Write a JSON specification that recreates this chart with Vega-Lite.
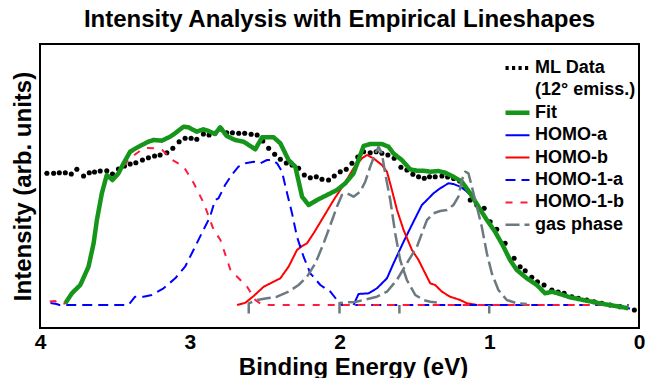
{
"$schema": "https://vega.github.io/schema/vega-lite/v6.json",
"width": 599, "height": 284,
"autosize": {"type": "none"},
"padding": {"left": 40, "top": 44, "right": 6, "bottom": 50},
"background": "white",
"config": {
  "font": "Liberation Sans",
  "view": {"stroke": "black", "strokeWidth": 2},
  "axis": {"labelFont": "Liberation Sans", "titleFont": "Liberation Sans", "labelFontWeight": "bold", "titleFontWeight": "bold", "labelColor": "black", "titleColor": "black", "ticks": false, "grid": false, "domain": false}
},
"title": {"text": "Intensity Analysis with Empirical Lineshapes", "fontSize": 24, "fontWeight": "bold", "font": "Liberation Sans", "anchor": "middle", "offset": 12, "color": "black"},
"datasets": {
"tickpos": [
{"t":0,"k":"major"},{"t":1,"k":"major"},{"t":2,"k":"major"},{"t":3,"k":"major"},{"t":4,"k":"major"},
{"t":0.1,"k":"minor"},{"t":0.2,"k":"minor"},{"t":0.3,"k":"minor"},{"t":0.4,"k":"minor"},{"t":0.5,"k":"minor"},{"t":0.6,"k":"minor"},{"t":0.7,"k":"minor"},{"t":0.8,"k":"minor"},{"t":0.9,"k":"minor"},
{"t":1.1,"k":"minor"},{"t":1.2,"k":"minor"},{"t":1.3,"k":"minor"},{"t":1.4,"k":"minor"},{"t":1.5,"k":"minor"},{"t":1.6,"k":"minor"},{"t":1.7,"k":"minor"},{"t":1.8,"k":"minor"},{"t":1.9,"k":"minor"},
{"t":2.1,"k":"minor"},{"t":2.2,"k":"minor"},{"t":2.3,"k":"minor"},{"t":2.4,"k":"minor"},{"t":2.5,"k":"minor"},{"t":2.6,"k":"minor"},{"t":2.7,"k":"minor"},{"t":2.8,"k":"minor"},{"t":2.9,"k":"minor"},
{"t":3.1,"k":"minor"},{"t":3.2,"k":"minor"},{"t":3.3,"k":"minor"},{"t":3.4,"k":"minor"},{"t":3.5,"k":"minor"},{"t":3.6,"k":"minor"},{"t":3.7,"k":"minor"},{"t":3.8,"k":"minor"},{"t":3.9,"k":"minor"}
],
"ml": [
{"e":3.954,"i":154.7},{"e":3.909,"i":154.7},{"e":3.871,"i":155.3},{"e":3.831,"i":155.3},{"e":3.791,"i":154},{"e":3.754,"i":158.7},{"e":3.709,"i":152},{"e":3.671,"i":155.3},{"e":3.636,"i":156},{"e":3.598,"i":157},{"e":3.554,"i":157.3},{"e":3.516,"i":154},{"e":3.476,"i":159},{"e":3.436,"i":162},{"e":3.398,"i":164},{"e":3.36,"i":165.3},{"e":3.316,"i":168},{"e":3.276,"i":170.3},{"e":3.235,"i":172},{"e":3.198,"i":173},{"e":3.153,"i":175.3},{"e":3.113,"i":179.7},{"e":3.071,"i":186.3},{"e":3.031,"i":189.7},{"e":2.991,"i":189.7},{"e":2.953,"i":188.7},{"e":2.909,"i":194},{"e":2.871,"i":193},{"e":2.831,"i":194.7},{"e":2.791,"i":199},{"e":2.753,"i":195.3},{"e":2.715,"i":195.3},{"e":2.673,"i":194.7},{"e":2.633,"i":194.7},{"e":2.59,"i":193.7},{"e":2.55,"i":193},{"e":2.512,"i":187},{"e":2.473,"i":179.7},{"e":2.433,"i":173.7},{"e":2.395,"i":168.7},{"e":2.355,"i":165},{"e":2.317,"i":163},{"e":2.273,"i":159.7},{"e":2.235,"i":153},{"e":2.195,"i":150.3},{"e":2.155,"i":151.3},{"e":2.117,"i":148.7},{"e":2.073,"i":148},{"e":2.035,"i":152},{"e":1.995,"i":156.3},{"e":1.955,"i":158.7},{"e":1.917,"i":164.7},{"e":1.878,"i":171},{"e":1.839,"i":176.3},{"e":1.795,"i":175.3},{"e":1.755,"i":176.3},{"e":1.717,"i":174.7},{"e":1.677,"i":173},{"e":1.635,"i":169.7},{"e":1.59,"i":160.7},{"e":1.55,"i":158},{"e":1.51,"i":153.7},{"e":1.472,"i":151.3},{"e":1.434,"i":149.7},{"e":1.399,"i":151.3},{"e":1.361,"i":151.3},{"e":1.316,"i":152},{"e":1.278,"i":151},{"e":1.238,"i":149.5},{"e":1.198,"i":147},{"e":1.16,"i":140},{"e":1.127,"i":128},{"e":1.083,"i":123},{"e":1.034,"i":119.7},{"e":0.994,"i":106.3},{"e":0.95,"i":98.7},{"e":0.894,"i":84.7},{"e":0.834,"i":69.7},{"e":0.794,"i":61.3},{"e":0.76,"i":57.3},{"e":0.716,"i":50.7},{"e":0.678,"i":46.3},{"e":0.634,"i":43},{"e":0.582,"i":38},{"e":0.54,"i":36},{"e":0.5,"i":34.7},{"e":0.449,"i":31.3},{"e":0.405,"i":29.7},{"e":0.349,"i":28},{"e":0.3,"i":26.3},{"e":0.249,"i":24.7},{"e":0.193,"i":23},{"e":0.127,"i":21.3},{"e":0.031,"i":18}
],
"curves": [
{"s":"Fit","p":"a","e":3.831,"i":24.7},{"s":"Fit","p":"a","e":3.787,"i":34.7},{"s":"Fit","p":"a","e":3.731,"i":43},{"s":"Fit","p":"a","e":3.676,"i":61.3},{"s":"Fit","p":"a","e":3.642,"i":84.7},{"s":"Fit","p":"a","e":3.62,"i":108},{"s":"Fit","p":"a","e":3.587,"i":134.7},{"s":"Fit","p":"a","e":3.554,"i":153},{"s":"Fit","p":"a","e":3.516,"i":148},{"s":"Fit","p":"a","e":3.476,"i":154.7},{"s":"Fit","p":"a","e":3.442,"i":164.7},{"s":"Fit","p":"a","e":3.398,"i":176.3},{"s":"Fit","p":"a","e":3.342,"i":181.3},{"s":"Fit","p":"a","e":3.276,"i":186.3},{"s":"Fit","p":"a","e":3.242,"i":188},{"s":"Fit","p":"a","e":3.187,"i":187.3},{"s":"Fit","p":"a","e":3.131,"i":191.3},{"s":"Fit","p":"a","e":3.098,"i":194.7},{"s":"Fit","p":"a","e":3.042,"i":201.3},{"s":"Fit","p":"a","e":3.009,"i":200.7},{"s":"Fit","p":"a","e":2.953,"i":196.3},{"s":"Fit","p":"a","e":2.909,"i":198.7},{"s":"Fit","p":"a","e":2.875,"i":197},{"s":"Fit","p":"a","e":2.831,"i":194},{"s":"Fit","p":"a","e":2.797,"i":200.7},{"s":"Fit","p":"a","e":2.753,"i":192},{"s":"Fit","p":"a","e":2.697,"i":188},{"s":"Fit","p":"a","e":2.64,"i":186.3},{"s":"Fit","p":"a","e":2.562,"i":178.7},{"s":"Fit","p":"a","e":2.517,"i":190.7},{"s":"Fit","p":"a","e":2.44,"i":190.7},{"s":"Fit","p":"a","e":2.395,"i":184.7},{"s":"Fit","p":"a","e":2.34,"i":168},{"s":"Fit","p":"a","e":2.295,"i":161.3},{"s":"Fit","p":"a","e":2.25,"i":131.3},{"s":"Fit","p":"a","e":2.206,"i":123},{"s":"Fit","p":"a","e":2.15,"i":128},{"s":"Fit","p":"a","e":2.083,"i":133},{"s":"Fit","p":"a","e":2.017,"i":138},{"s":"Fit","p":"a","e":1.961,"i":144.7},{"s":"Fit","p":"a","e":1.906,"i":154.7},{"s":"Fit","p":"a","e":1.873,"i":168},{"s":"Fit","p":"a","e":1.839,"i":182},{"s":"Fit","p":"a","e":1.795,"i":184},{"s":"Fit","p":"a","e":1.717,"i":184},{"s":"Fit","p":"a","e":1.673,"i":181.3},{"s":"Fit","p":"a","e":1.64,"i":174.7},{"s":"Fit","p":"a","e":1.584,"i":168},{"s":"Fit","p":"a","e":1.528,"i":158.7},{"s":"Fit","p":"a","e":1.483,"i":157.3},{"s":"Fit","p":"a","e":1.439,"i":157.3},{"s":"Fit","p":"a","e":1.394,"i":156.3},{"s":"Fit","p":"a","e":1.339,"i":157},{"s":"Fit","p":"a","e":1.294,"i":155.3},{"s":"Fit","p":"a","e":1.239,"i":151.3},{"s":"Fit","p":"a","e":1.183,"i":146.3},{"s":"Fit","p":"a","e":1.127,"i":134.7},{"s":"Fit","p":"a","e":1.072,"i":121.3},{"s":"Fit","p":"a","e":1.016,"i":108},{"s":"Fit","p":"a","e":0.961,"i":96.3},{"s":"Fit","p":"a","e":0.905,"i":81.3},{"s":"Fit","p":"a","e":0.861,"i":68},{"s":"Fit","p":"a","e":0.816,"i":58},{"s":"Fit","p":"a","e":0.749,"i":49.7},{"s":"Fit","p":"a","e":0.682,"i":43},{"s":"Fit","p":"a","e":0.627,"i":34.7},{"s":"Fit","p":"a","e":0.582,"i":36.3},{"s":"Fit","p":"a","e":0.527,"i":34},{"s":"Fit","p":"a","e":0.46,"i":30.7},{"s":"Fit","p":"a","e":0.349,"i":27.3},{"s":"Fit","p":"a","e":0.238,"i":24},{"s":"Fit","p":"a","e":0.127,"i":21.3},{"s":"Fit","p":"a","e":0.071,"i":19.7},
{"s":"HOMO-a","p":"a","e":1.906,"i":23},{"s":"HOMO-a","p":"a","e":1.873,"i":34},{"s":"HOMO-a","p":"a","e":1.806,"i":34.7},{"s":"HOMO-a","p":"a","e":1.75,"i":39.7},{"s":"HOMO-a","p":"a","e":1.683,"i":49.7},{"s":"HOMO-a","p":"a","e":1.639,"i":64.7},{"s":"HOMO-a","p":"a","e":1.572,"i":86.3},{"s":"HOMO-a","p":"a","e":1.506,"i":106.3},{"s":"HOMO-a","p":"a","e":1.45,"i":123},{"s":"HOMO-a","p":"a","e":1.416,"i":128},{"s":"HOMO-a","p":"a","e":1.372,"i":134.7},{"s":"HOMO-a","p":"a","e":1.328,"i":139.7},{"s":"HOMO-a","p":"a","e":1.272,"i":144.7},{"s":"HOMO-a","p":"a","e":1.239,"i":144},{"s":"HOMO-a","p":"a","e":1.194,"i":141.3},{"s":"HOMO-a","p":"a","e":1.161,"i":138},{"s":"HOMO-a","p":"a","e":1.127,"i":133},{"s":"HOMO-a","p":"a","e":1.072,"i":120.5},{"s":"HOMO-a","p":"a","e":1.016,"i":107.5},{"s":"HOMO-a","p":"a","e":0.961,"i":96},{"s":"HOMO-a","p":"a","e":0.905,"i":81},{"s":"HOMO-a","p":"a","e":0.861,"i":67.5},{"s":"HOMO-a","p":"a","e":0.816,"i":57.5},{"s":"HOMO-a","p":"a","e":0.749,"i":49},{"s":"HOMO-a","p":"a","e":0.682,"i":42.5},{"s":"HOMO-a","p":"a","e":0.627,"i":34},{"s":"HOMO-a","p":"a","e":0.582,"i":35.5},{"s":"HOMO-a","p":"a","e":0.527,"i":33.5},{"s":"HOMO-a","p":"a","e":0.46,"i":30},{"s":"HOMO-a","p":"a","e":0.349,"i":27},{"s":"HOMO-a","p":"a","e":0.238,"i":23.5},{"s":"HOMO-a","p":"a","e":0.127,"i":21},{"s":"HOMO-a","p":"a","e":0.06,"i":19.5},
{"s":"HOMO-b","p":"a","e":2.684,"i":23},{"s":"HOMO-b","p":"a","e":2.628,"i":25.3},{"s":"HOMO-b","p":"a","e":2.573,"i":32},{"s":"HOMO-b","p":"a","e":2.506,"i":41.3},{"s":"HOMO-b","p":"a","e":2.44,"i":46.3},{"s":"HOMO-b","p":"a","e":2.395,"i":49.7},{"s":"HOMO-b","p":"a","e":2.34,"i":61.3},{"s":"HOMO-b","p":"a","e":2.284,"i":78},{"s":"HOMO-b","p":"a","e":2.25,"i":82},{"s":"HOMO-b","p":"a","e":2.217,"i":84.7},{"s":"HOMO-b","p":"a","e":2.173,"i":94.7},{"s":"HOMO-b","p":"a","e":2.106,"i":111.3},{"s":"HOMO-b","p":"a","e":2.039,"i":128},{"s":"HOMO-b","p":"a","e":1.973,"i":143},{"s":"HOMO-b","p":"a","e":1.906,"i":159.7},{"s":"HOMO-b","p":"a","e":1.85,"i":169.7},{"s":"HOMO-b","p":"a","e":1.817,"i":173},{"s":"HOMO-b","p":"a","e":1.773,"i":169.7},{"s":"HOMO-b","p":"a","e":1.717,"i":163},{"s":"HOMO-b","p":"a","e":1.683,"i":156.3},{"s":"HOMO-b","p":"a","e":1.65,"i":138},{"s":"HOMO-b","p":"a","e":1.616,"i":118},{"s":"HOMO-b","p":"a","e":1.572,"i":98},{"s":"HOMO-b","p":"a","e":1.516,"i":78},{"s":"HOMO-b","p":"a","e":1.472,"i":68},{"s":"HOMO-b","p":"a","e":1.428,"i":54.7},{"s":"HOMO-b","p":"a","e":1.394,"i":44.7},{"s":"HOMO-b","p":"a","e":1.361,"i":43},{"s":"HOMO-b","p":"a","e":1.316,"i":36.3},{"s":"HOMO-b","p":"a","e":1.261,"i":31.3},{"s":"HOMO-b","p":"a","e":1.194,"i":28},{"s":"HOMO-b","p":"a","e":1.149,"i":24.7},{"s":"HOMO-b","p":"a","e":1.105,"i":23.7},{"s":"HOMO-b","p":"a","e":1.08,"i":23},
{"s":"HOMO-1-a","p":"a","e":3.93,"i":25},{"s":"HOMO-1-a","p":"a","e":3.89,"i":24},{"s":"HOMO-1-a","p":"a","e":3.87,"i":23},{"s":"HOMO-1-a","p":"a","e":3.409,"i":23},{"s":"HOMO-1-a","p":"a","e":3.365,"i":31.3},{"s":"HOMO-1-a","p":"a","e":3.309,"i":31.3},{"s":"HOMO-1-a","p":"a","e":3.253,"i":33},{"s":"HOMO-1-a","p":"a","e":3.175,"i":39.7},{"s":"HOMO-1-a","p":"a","e":3.097,"i":49.7},{"s":"HOMO-1-a","p":"a","e":3.031,"i":61.3},{"s":"HOMO-1-a","p":"a","e":2.975,"i":78},{"s":"HOMO-1-a","p":"a","e":2.92,"i":94.7},{"s":"HOMO-1-a","p":"a","e":2.864,"i":111.3},{"s":"HOMO-1-a","p":"a","e":2.831,"i":128},{"s":"HOMO-1-a","p":"a","e":2.808,"i":129.7},{"s":"HOMO-1-a","p":"a","e":2.764,"i":143},{"s":"HOMO-1-a","p":"a","e":2.72,"i":153},{"s":"HOMO-1-a","p":"a","e":2.675,"i":161.3},{"s":"HOMO-1-a","p":"a","e":2.628,"i":164.7},{"s":"HOMO-1-a","p":"a","e":2.573,"i":166.3},{"s":"HOMO-1-a","p":"a","e":2.528,"i":164.7},{"s":"HOMO-1-a","p":"a","e":2.484,"i":168},{"s":"HOMO-1-a","p":"a","e":2.45,"i":168},{"s":"HOMO-1-a","p":"a","e":2.417,"i":164.7},{"s":"HOMO-1-a","p":"a","e":2.384,"i":156.3},{"s":"HOMO-1-a","p":"a","e":2.35,"i":134.7},{"s":"HOMO-1-a","p":"a","e":2.317,"i":114.7},{"s":"HOMO-1-a","p":"a","e":2.284,"i":91.3},{"s":"HOMO-1-a","p":"a","e":2.24,"i":71.3},{"s":"HOMO-1-a","p":"a","e":2.195,"i":54.7},{"s":"HOMO-1-a","p":"a","e":2.128,"i":43},{"s":"HOMO-1-a","p":"a","e":2.061,"i":36.3},{"s":"HOMO-1-a","p":"a","e":2.017,"i":28},{"s":"HOMO-1-a","p":"a","e":1.984,"i":23},{"s":"HOMO-1-a","p":"a","e":0.07,"i":23},
{"s":"HOMO-1-b","p":"a","e":3.935,"i":26.5},{"s":"HOMO-1-b","p":"a","e":3.9,"i":27},{"s":"HOMO-1-b","p":"a","e":3.87,"i":23.5},{"s":"HOMO-1-b","p":"a","e":3.831,"i":24.7},{"s":"HOMO-1-b","p":"a","e":3.787,"i":34.7},{"s":"HOMO-1-b","p":"a","e":3.731,"i":43},{"s":"HOMO-1-b","p":"a","e":3.676,"i":61.3},{"s":"HOMO-1-b","p":"a","e":3.642,"i":84.7},{"s":"HOMO-1-b","p":"a","e":3.62,"i":108},{"s":"HOMO-1-b","p":"a","e":3.587,"i":134.7},{"s":"HOMO-1-b","p":"a","e":3.554,"i":152},{"s":"HOMO-1-b","p":"a","e":3.516,"i":147},{"s":"HOMO-1-b","p":"a","e":3.476,"i":153},{"s":"HOMO-1-b","p":"a","e":3.442,"i":162},{"s":"HOMO-1-b","p":"a","e":3.398,"i":170},{"s":"HOMO-1-b","p":"a","e":3.342,"i":176},{"s":"HOMO-1-b","p":"a","e":3.329,"i":178},{"s":"HOMO-1-b","p":"a","e":3.282,"i":180},{"s":"HOMO-1-b","p":"a","e":3.24,"i":179.7},{"s":"HOMO-1-b","p":"a","e":3.184,"i":178},{"s":"HOMO-1-b","p":"a","e":3.117,"i":168},{"s":"HOMO-1-b","p":"a","e":3.04,"i":161.3},{"s":"HOMO-1-b","p":"a","e":2.973,"i":144.7},{"s":"HOMO-1-b","p":"a","e":2.906,"i":124.7},{"s":"HOMO-1-b","p":"a","e":2.84,"i":98},{"s":"HOMO-1-b","p":"a","e":2.795,"i":88},{"s":"HOMO-1-b","p":"a","e":2.728,"i":58},{"s":"HOMO-1-b","p":"a","e":2.662,"i":48},{"s":"HOMO-1-b","p":"a","e":2.617,"i":41.3},{"s":"HOMO-1-b","p":"a","e":2.562,"i":28},{"s":"HOMO-1-b","p":"a","e":2.515,"i":23},{"s":"HOMO-1-b","p":"a","e":0.07,"i":23},
{"s":"gas phase","p":"a","e":2.606,"i":14.5},{"s":"gas phase","p":"a","e":2.606,"i":24.7},{"s":"gas phase","p":"a","e":2.551,"i":28},{"s":"gas phase","p":"a","e":2.484,"i":29.7},{"s":"gas phase","p":"a","e":2.417,"i":31.3},{"s":"gas phase","p":"a","e":2.34,"i":36.3},{"s":"gas phase","p":"a","e":2.273,"i":43},{"s":"gas phase","p":"a","e":2.217,"i":51.3},{"s":"gas phase","p":"a","e":2.161,"i":64.7},{"s":"gas phase","p":"a","e":2.106,"i":84.7},{"s":"gas phase","p":"a","e":2.061,"i":103},{"s":"gas phase","p":"a","e":2.017,"i":121.3},{"s":"gas phase","p":"a","e":1.984,"i":133},{"s":"gas phase","p":"a","e":1.95,"i":134.7},{"s":"gas phase","p":"a","e":1.906,"i":131.3},{"s":"gas phase","p":"a","e":1.862,"i":136.3},{"s":"gas phase","p":"a","e":1.828,"i":146.3},{"s":"gas phase","p":"a","e":1.795,"i":161.3},{"s":"gas phase","p":"a","e":1.761,"i":174.7},{"s":"gas phase","p":"a","e":1.739,"i":181.3},{"s":"gas phase","p":"a","e":1.717,"i":174.7},{"s":"gas phase","p":"a","e":1.695,"i":154.7},{"s":"gas phase","p":"a","e":1.661,"i":128},{"s":"gas phase","p":"a","e":1.628,"i":94.7},{"s":"gas phase","p":"a","e":1.595,"i":68},{"s":"gas phase","p":"a","e":1.55,"i":48},{"s":"gas phase","p":"a","e":1.494,"i":33},{"s":"gas phase","p":"a","e":1.439,"i":28},{"s":"gas phase","p":"a","e":1.394,"i":26.3},{"s":"gas phase","p":"a","e":1.35,"i":25.5},
{"s":"gas phase","p":"b","e":2.0,"i":14.5},{"s":"gas phase","p":"b","e":2.0,"i":25},{"s":"gas phase","p":"b","e":1.961,"i":25.5},{"s":"gas phase","p":"b","e":1.894,"i":26},{"s":"gas phase","p":"b","e":1.841,"i":28},{"s":"gas phase","p":"b","e":1.75,"i":31.3},{"s":"gas phase","p":"b","e":1.683,"i":36.3},{"s":"gas phase","p":"b","e":1.617,"i":48},{"s":"gas phase","p":"b","e":1.55,"i":64.7},{"s":"gas phase","p":"b","e":1.483,"i":81.3},{"s":"gas phase","p":"b","e":1.416,"i":108},{"s":"gas phase","p":"b","e":1.372,"i":114.7},{"s":"gas phase","p":"b","e":1.328,"i":117},{"s":"gas phase","p":"b","e":1.283,"i":118},{"s":"gas phase","p":"b","e":1.239,"i":123},{"s":"gas phase","p":"b","e":1.206,"i":131.3},{"s":"gas phase","p":"b","e":1.183,"i":148},{"s":"gas phase","p":"b","e":1.161,"i":156.3},{"s":"gas phase","p":"b","e":1.139,"i":154.7},{"s":"gas phase","p":"b","e":1.116,"i":141.3},{"s":"gas phase","p":"b","e":1.083,"i":121.3},{"s":"gas phase","p":"b","e":1.05,"i":101.3},{"s":"gas phase","p":"b","e":1.016,"i":74.7},{"s":"gas phase","p":"b","e":0.983,"i":54.7},{"s":"gas phase","p":"b","e":0.939,"i":38},{"s":"gas phase","p":"b","e":0.883,"i":28},{"s":"gas phase","p":"b","e":0.816,"i":24.7},{"s":"gas phase","p":"b","e":0.749,"i":24},
{"s":"gas phase","p":"c","e":1.6,"i":14.5},{"s":"gas phase","p":"c","e":1.6,"i":23},
{"s":"gas phase","p":"d","e":1.0,"i":14.5},{"s":"gas phase","p":"d","e":1.0,"i":23}
]
},
"encoding": {
  "y": {"field": "i", "type": "quantitative", "scale": {"domain": [0, 284], "nice": false, "zero": false},
        "axis": {"title": "Intensity (arb. units)", "titleFontSize": 24, "labels": false, "ticks": false, "domain": false, "grid": false, "titlePadding": 5}},
  "color": {"field": "s", "type": "nominal",
    "scale": {"domain": ["ML Data", "(12° emiss.)", "Fit", "HOMO-a", "HOMO-b", "HOMO-1-a", "HOMO-1-b", "gas phase"],
              "range": ["#000000", "transparent", "#15951a", "#0000ff", "#ff0000", "#0000ff", "#ff1a40", "#6c7a80"]},
    "legend": {"orient": "none", "legendX": 463, "legendY": 14, "title": null, "labelFontSize": 18, "labelFont": "Liberation Sans", "labelFontWeight": "bold", "labelColor": "black", "symbolType": "stroke", "symbolSize": 576, "clipHeight": 20, "rowPadding": 2.4, "labelOffset": 3, "padding": 0, "labelLimit": 0}},
  "strokeDash": {"field": "s", "type": "nominal",
    "scale": {"domain": ["ML Data", "(12° emiss.)", "Fit", "HOMO-a", "HOMO-b", "HOMO-1-a", "HOMO-1-b", "gas phase"],
              "range": [[3.2, 3.3], [1, 0], [1, 0], [1, 0], [1, 0], [10, 6], [7, 8], [14, 5]]},
    "legend": {"orient": "none", "legendX": 463, "legendY": 14, "title": null, "labelFontSize": 18, "labelFont": "Liberation Sans", "labelFontWeight": "bold", "labelColor": "black", "symbolType": "stroke", "symbolSize": 576, "clipHeight": 20, "rowPadding": 2.4, "labelOffset": 3, "padding": 0, "labelLimit": 0}},
  "strokeWidth": {"field": "s", "type": "nominal",
    "scale": {"type": "ordinal", "domain": ["ML Data", "(12° emiss.)", "Fit", "HOMO-a", "HOMO-b", "HOMO-1-a", "HOMO-1-b", "gas phase"],
              "range": [4, 0, 4.5, 2, 2, 2, 2, 2.5]},
    "legend": {"orient": "none", "legendX": 463, "legendY": 14, "title": null, "labelFontSize": 18, "labelFont": "Liberation Sans", "labelFontWeight": "bold", "labelColor": "black", "symbolType": "stroke", "symbolSize": 576, "clipHeight": 20, "rowPadding": 2.4, "labelOffset": 3, "padding": 0, "labelLimit": 0}}
},
"layer": [
  {"data": {"name": "ml"},
   "mark": {"type": "circle", "size": 26, "opacity": 1},
   "encoding": {
     "x": {"field": "e", "type": "quantitative", "scale": {"domain": [0, 4], "reverse": true, "nice": false, "zero": false}, "axis": null},
     "color": {"value": "black"},
     "strokeDash": {"value": [1, 0]},
     "strokeWidth": {"value": 0}
   }},
  {"data": {"name": "curves"},
   "transform": [{"filter": "indexof(['HOMO-a','HOMO-b','HOMO-1-a','HOMO-1-b'], datum.s) >= 0"}],
   "mark": {"type": "line", "strokeJoin": "round"},
   "encoding": {
     "x": {"field": "e", "type": "quantitative", "scale": {"domain": [0, 4], "reverse": true, "nice": false, "zero": false},
           "axis": {"orient": "bottom", "values": [0, 1, 2, 3, 4], "format": "d",
                    "title": "Binding Energy (eV)", "titleFontSize": 24, "titleX": 313, "titleY": 46, "titleBaseline": "alphabetic", "labelFontSize": 21,
                    "labelPadding": 3.5, "labelFlush": false, "labelOverlap": false}},
     "order": {"field": "e", "type": "quantitative", "sort": "descending"}
   }},
  {"data": {"name": "curves"},
   "transform": [{"filter": "datum.s == 'Fit'"}],
   "mark": {"type": "line", "strokeJoin": "round"},
   "encoding": {
     "x": {"field": "e", "type": "quantitative", "scale": {"domain": [0, 4], "reverse": true, "nice": false, "zero": false}, "axis": null},
     "order": {"field": "e", "type": "quantitative", "sort": "descending"}
   }},
  {"data": {"name": "curves"},
   "transform": [{"filter": "datum.s == 'gas phase'"}],
   "mark": {"type": "line", "strokeJoin": "round"},
   "encoding": {
     "x": {"field": "e", "type": "quantitative", "scale": {"domain": [0, 4], "reverse": true, "nice": false, "zero": false}, "axis": null},
     "detail": {"field": "p", "type": "nominal"},
     "order": {"field": "e", "type": "quantitative", "sort": "descending"}
   }},
  {"data": {"name": "tickpos"},
   "transform": [{"filter": "datum.k == 'minor'"}],
   "mark": {"type": "point", "shape": "M0,-1L0,1", "filled": false, "size": 25, "opacity": 1},
   "encoding": {
     "x": {"field": "t", "type": "quantitative", "scale": {"domain": [0, 4], "reverse": true, "nice": false, "zero": false}, "axis": null},
     "y": {"datum": 2.5},
     "color": {"value": "black"}, "strokeDash": {"value": [1, 0]}, "strokeWidth": {"value": 1.6}
   }},
  {"data": {"name": "tickpos"},
   "transform": [{"filter": "datum.k == 'major'"}],
   "mark": {"type": "point", "shape": "M0,-1L0,1", "filled": false, "size": 64, "opacity": 1},
   "encoding": {
     "x": {"field": "t", "type": "quantitative", "scale": {"domain": [0, 4], "reverse": true, "nice": false, "zero": false}, "axis": null},
     "y": {"datum": 4},
     "color": {"value": "black"}, "strokeDash": {"value": [1, 0]}, "strokeWidth": {"value": 1.6}
   }},
  {"data": {"name": "tickpos"},
   "transform": [{"filter": "datum.k == 'minor'"}],
   "mark": {"type": "point", "shape": "M0,-1L0,1", "filled": false, "size": 25, "opacity": 1},
   "encoding": {
     "x": {"field": "t", "type": "quantitative", "scale": {"domain": [0, 4], "reverse": true, "nice": false, "zero": false}, "axis": null},
     "y": {"datum": 281.5},
     "color": {"value": "black"}, "strokeDash": {"value": [1, 0]}, "strokeWidth": {"value": 1.6}
   }},
  {"data": {"name": "tickpos"},
   "transform": [{"filter": "datum.k == 'major'"}],
   "mark": {"type": "point", "shape": "M0,-1L0,1", "filled": false, "size": 64, "opacity": 1},
   "encoding": {
     "x": {"field": "t", "type": "quantitative", "scale": {"domain": [0, 4], "reverse": true, "nice": false, "zero": false}, "axis": null},
     "y": {"datum": 280},
     "color": {"value": "black"}, "strokeDash": {"value": [1, 0]}, "strokeWidth": {"value": 1.6}
   }}
],
"resolve": {"axis": {"x": "independent"}}
}
